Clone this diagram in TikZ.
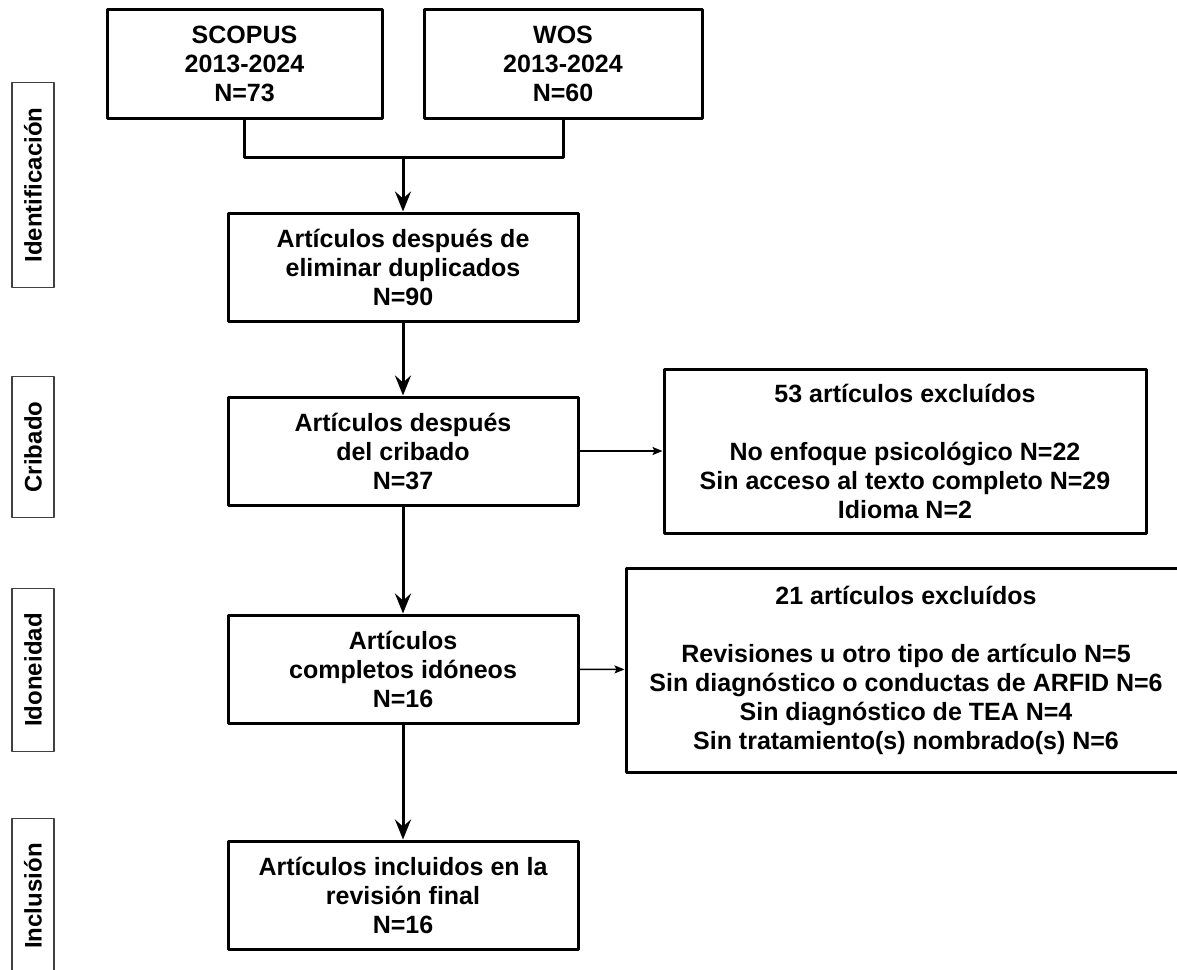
\documentclass[tikz,border=0pt]{standalone}
\usepackage{fontspec}
\setmainfont{Liberation Sans}
\usetikzlibrary{arrows.meta}

\tikzset{
	box/.style={draw, line width=3pt, align=center, inner sep=0pt, minimum width=350pt, minimum height=108pt},
	phase/.style={draw=black!75, line width=1.5pt, rotate=90, inner xsep=25pt, inner ysep=0pt, minimum height=42pt, font={\fontsize{24pt}{29pt}\selectfont\bfseries}},
	flow/.style={line width=3pt, -{Stealth[length=20pt,width=16pt,inset=7pt]}},
	aside/.style={line width=1.5pt, -{Stealth[length=10pt,width=8pt,inset=2pt]}}
}

\begin{document}
\begin{tikzpicture}[x=1pt, y=-1pt, font={\fontsize{25pt}{29pt}\selectfont\bfseries}, line join=round]
		
		\useasboundingbox (0,0) rectangle (1177,969);
		
		% phases
		\node[phase] (ident) at (33,185) {Identificación};
		\node[phase] (crib) at (33,447) {Cribado};
		\node[phase] (idon) at (33,670) {Idoneidad};
		\node[phase] (incl) at (33,896) {Inclusión};
		
		% main column
		\node[box, minimum width=275pt, minimum height=109pt] (scopus) at (244.5,63.5) {SCOPUS\\2013-2024\\N=73};
		\node[box, minimum width=278pt, minimum height=109pt] (wos) at (563,63.5) {WOS\\2013-2024\\N=60};
		\node[box] (dup) at (403,267) {Artículos después de\\eliminar duplicados\\N=90};
		\node[box] (cribado) at (403,451) {Artículos después\\del cribado\\N=37};
		\node[box] (idoneos) at (403,669) {Artículos\\completos idóneos\\N=16};
		\node[box] (final) at (403,895) {Artículos incluidos en la\\revisión final\\N=16};
		
		% excluded
		\node[box, minimum width=482pt, minimum height=164pt] (excl1) at (905,451)
			{53 artículos excluídos\\[29pt]No enfoque psicológico N=22\\Sin acceso al texto completo N=29\\Idioma N=2};
		\node[box, minimum width=560pt, minimum height=204pt] (excl2) at (906,670)
			{21 artículos excluídos\\[29pt]Revisiones u otro tipo de artículo N=5\\Sin diagnóstico o conductas de ARFID N=6\\Sin diagnóstico de TEA N=4\\Sin tratamiento(s) nombrado(s) N=6};
		
		\coordinate (join) at (403,157);
		\draw[line width=3pt] (scopus.south) |- (join) -| (wos.south);
		\draw[flow] (join) -- (dup.north);
		\draw[flow] (dup) -- (cribado);
		\draw[flow] (cribado) -- (idoneos);
		\draw[flow] (idoneos) -- (final);
		\draw[aside] (cribado) -- (excl1);
		\draw[aside] (idoneos) -- (excl2);
\end{tikzpicture}
\end{document}
